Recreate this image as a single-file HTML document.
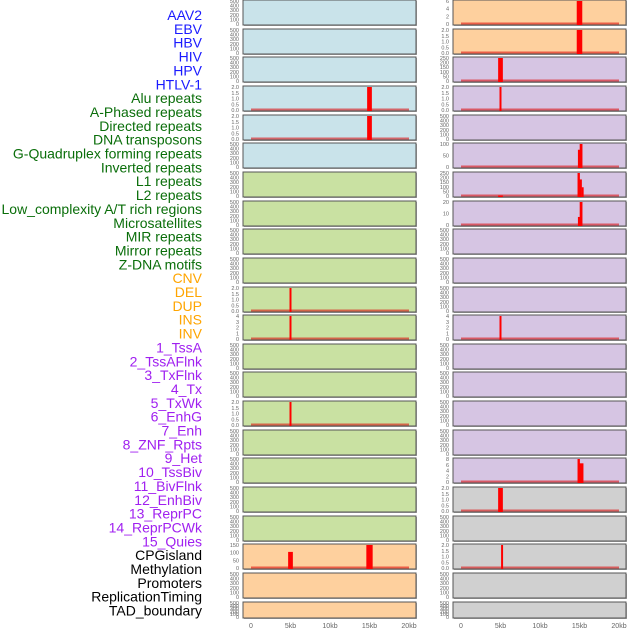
<!DOCTYPE html>
<html><head><meta charset="utf-8"><style>
body{margin:0;background:#fff;width:630px;height:630px;overflow:hidden;font-family:"Liberation Sans",sans-serif}
svg{position:absolute;left:0;top:0}
</style></head><body>
<svg id="c" width="630" height="630" xmlns="http://www.w3.org/2000/svg"></svg>
<script>
const labels=["AAV2","EBV","HBV","HIV","HPV","HTLV-1","Alu repeats","A-Phased repeats","Directed repeats","DNA transposons","G-Quadruplex forming repeats","Inverted repeats","L1 repeats","L2 repeats","Low_complexity A/T rich regions","Microsatellites","MIR repeats","Mirror repeats","Z-DNA motifs","CNV","DEL","DUP","INS","INV","1_TssA","2_TssAFlnk","3_TxFlnk","4_Tx","5_TxWk","6_EnhG","7_Enh","8_ZNF_Rpts","9_Het","10_TssBiv","11_BivFlnk","12_EnhBiv","13_ReprPC","14_ReprPCWk","15_Quies","CPGisland","Methylation","Promoters","ReplicationTiming","TAD_boundary"];
const labelGroups=["v","v","v","v","v","v","g","g","g","g","g","g","g","g","g","g","g","g","g","o","o","o","o","o","p","p","p","p","p","p","p","p","p","p","p","p","p","p","p","k","k","k","k","k"];
const xTicks=[0,5,10,15,20];
const xTickLabels=["0","5kb","10kb","15kb","20kb"];
// left column: panel colour, y ticks, bars [position kb, value, width kb]
const leftColors=["b","b","b","b","b","b","g","g","g","g","g","g","g","g","g","g","g","g","g","o","o","o"];
const leftTicks=[[0,100,200,300,400,500],[0,100,200,300,400,500],[0,100,200,300,400,500],[0,0.5,1,1.5,2],[0,0.5,1,1.5,2],[0,100,200,300,400,500],[0,100,200,300,400,500],[0,100,200,300,400,500],[0,100,200,300,400,500],[0,100,200,300,400,500],[0,0.5,1,1.5,2],[0,1,2,3,4],[0,100,200,300,400,500],[0,100,200,300,400,500],[0,0.5,1,1.5,2],[0,100,200,300,400,500],[0,100,200,300,400,500],[0,100,200,300,400,500],[0,100,200,300,400,500],[0,50,100,150],[0,100,200,300,400,500],[0,100,200,300,400,500]];
const leftBars=[[],[],[],[[15,2,0.6]],[[15,2,0.6]],[],[],[],[],[],[[5,2,0.25]],[[5,4,0.25]],[],[],[[5,2,0.25]],[],[],[],[],[[5,105,0.6],[15,180,0.8]],[],[]];
const leftBase=[false,false,false,true,true,false,false,false,false,false,true,true,false,false,true,false,false,false,false,true,false,false];
const rightColors=["o","o","p","p","p","p","p","p","p","p","p","p","p","p","p","p","p","k","k","k","k","k"];
const rightTicks=[[0,2,4,6],[0,0.5,1,1.5,2],[0,50,100,150,200,250],[0,0.5,1,1.5,2],[0,100,200,300,400,500],[0,50,100],[0,50,100,150,200,250],[0,10,20],[0,100,200,300,400,500],[0,100,200,300,400,500],[0,100,200,300,400,500],[0,1,2,3,4],[0,100,200,300,400,500],[0,100,200,300,400,500],[0,100,200,300,400,500],[0,100,200,300,400,500],[0,2,4,6,8],[0,0.5,1,1.5,2],[0,100,200,300,400,500],[0,0.5,1,1.5,2],[0,100,200,300,400,500],[0,100,200,300,400,500]];
const rightBars=[[[15,6.5,0.7]],[[15,2,0.7]],[[5,260,0.6]],[[5,2,0.25]],[],[[14.95,75,0.3],[15.2,135,0.35]],[[5,5,0.6],[14.9,260,0.3],[15.15,180,0.3],[15.4,95,0.25]],[[14.95,7,0.3],[15.2,28,0.35]],[],[],[],[[5,4,0.25]],[],[],[],[],[[14.9,8.3,0.3],[15.2,6.5,0.6]],[[5,2,0.6]],[],[[5.2,2,0.25]],[],[]];
const rightBase=[true,true,true,true,false,true,true,true,false,false,false,true,false,false,false,false,true,true,false,true,false,false];

const NS="http://www.w3.org/2000/svg";
const svg=document.getElementById('c');
function mk(t,a,p){const e=document.createElementNS(NS,t);for(const k in a)e.setAttribute(k,a[k]);(p||svg).appendChild(e);return e;}
const lblColor={v:"#1a1aff",g:"#0a6e0a",o:"#ffa500",p:"#a020f0",k:"#000"};
const panelColor={b:"#c9e3ea",g:"#c9e1a2",o:"#fed09e",p:"#d6c5e3",k:"#d0d0d0"};
labels.forEach((s,i)=>{
  const t=mk('text',{x:202,y:20+i*13.85,'text-anchor':'end','font-size':14,fill:lblColor[labelGroups[i]]});
  t.textContent=s;
  
  
});
const rowTop=i=>Math.round(i*28.65);
const rowH=i=>i===21?16:25;
function col(x0,colors,ticks,bars,base,name){
  const x1=x0+173;
  const xs=kb=>x0+8+kb*7.9;
  colors.forEach((c,i)=>{
    const y=rowTop(i),h=rowH(i);
    const g=mk('g',{});
    
    
    mk('rect',{x:x0+1,y:y+1,width:173,height:h,fill:'#aaa'},g);
    mk('rect',{x:x0,y:y,width:173,height:h,fill:panelColor[c],stroke:'#555','stroke-width':1},g);
    const tk=ticks[i],mx=tk[tk.length-1];
    const ys=v=>y+h-1-(v/mx)*(h-2);
    tk.forEach(v=>{
      const t=mk('text',{x:x0-4,y:ys(v)+2,'text-anchor':'end','font-size':5.5,fill:'#666'},g);
      t.textContent=(mx<=2?v.toFixed(1):v);
      
      
    });
    if(base[i]){
      const l=mk('line',{x1:xs(0),x2:xs(20),y1:y+h-1.5,y2:y+h-1.5,stroke:'rgba(220,0,0,0.55)','stroke-width':2},g);
      
      
    }
    bars[i].forEach(b=>{
      const top=Math.max(ys(Math.min(b[1],mx*1.0)),y);
      const r=mk('rect',{x:xs(b[0])-b[2]*7.9/2,y:top,width:Math.max(b[2]*7.9,1.5),height:y+h-top,fill:'#ff0000'},g);
      
      
    });
  });
  xTicks.forEach((v,j)=>{
    const t=mk('text',{x:xs(v),y:628,'text-anchor':'middle','font-size':7,fill:'#666'});
    t.textContent=xTickLabels[j];
    
    
  });
}
col(243,leftColors,leftTicks,leftBars,leftBase,'left');
col(453,rightColors,rightTicks,rightBars,rightBase,'right');
</script>
</body></html>
